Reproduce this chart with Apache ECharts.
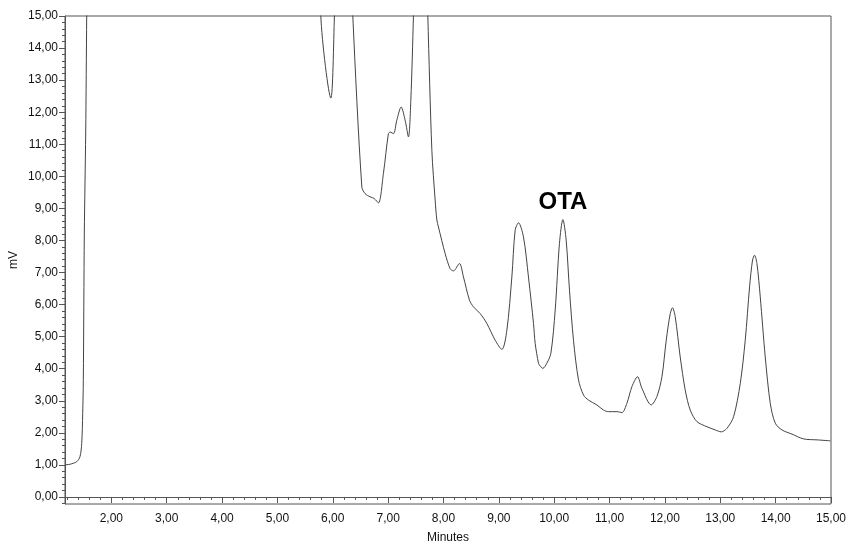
<!DOCTYPE html>
<html>
<head>
<meta charset="utf-8">
<script src="https://cdn.jsdelivr.net/npm/echarts@6/dist/echarts.min.js"></script>
<style>html,body{margin:0;padding:0;background:#fff;}#c{width:847px;height:542px;}</style>
</head>
<body>
<div id="c"></div>
<script>
// Retention time (minutes)
var times = [1.163, 1.254, 1.375, 1.434, 1.465, 1.483, 1.494, 1.512, 1.537, 1.555, 1.58,
  5.75, 5.784, 5.965, 6.030, 6.06,
  6.33, 6.362, 6.525, 6.584, 6.675, 6.747, 6.825, 6.915, 7.005, 7.036, 7.096, 7.157, 7.235, 7.307, 7.367, 7.410, 7.457, 7.48,
  7.69, 7.717, 7.790, 7.849, 7.880, 7.909, 8.030, 8.120, 8.180, 8.288, 8.361, 8.469, 8.541, 8.662, 8.783, 8.933, 9.055,
  9.145, 9.235, 9.295, 9.355, 9.445, 9.535, 9.626, 9.656, 9.716, 9.734, 9.795, 9.867, 9.940, 10.018, 10.095, 10.157,
  10.216, 10.276, 10.348, 10.439, 10.529, 10.619, 10.771, 10.890, 10.981, 11.133, 11.223, 11.313, 11.404, 11.505,
  11.584, 11.752, 11.855, 11.946, 12.024, 12.096, 12.137, 12.186, 12.276, 12.367, 12.457, 12.578, 12.759, 12.909,
  13.017, 13.120, 13.240, 13.361, 13.451, 13.529, 13.583, 13.619, 13.662, 13.722, 13.812, 13.903, 13.993, 14.114,
  14.295, 14.505, 14.747, 14.987];
// Detector signal (mV)
var signal = [1.00, 1.02, 1.10, 1.26, 1.67, 2.61, 3.63, 8.23, 11.35, 15.0, 20,
  20, 15.0, 12.44, 15.0, 17,
  17, 15.0, 9.67, 9.46, 9.36, 9.31, 9.17, 10.09, 11.33, 11.38, 11.33, 11.75, 12.16, 11.75, 11.23, 12.37, 15.0, 17,
  17, 15.0, 10.81, 9.26, 8.64, 8.42, 7.59, 7.12, 7.05, 7.28, 6.86, 6.14, 5.93, 5.72, 5.41, 4.89, 4.60,
  5.20, 6.86, 8.32, 8.55, 8.11, 6.86, 5.41, 4.79, 4.17, 4.11, 4.01, 4.17, 4.48, 5.83, 7.91, 8.65,
  8.01, 6.45, 4.89, 3.65, 3.18, 3.02, 2.87, 2.71, 2.66, 2.66, 2.63, 2.92, 3.44, 3.75,
  3.39, 2.87, 3.13, 3.75, 4.89, 5.72, 5.90, 5.62, 4.37, 3.33, 2.71, 2.35, 2.19, 2.09,
  2.03, 2.14, 2.50, 3.54, 4.89, 6.55, 7.39, 7.54, 7.28, 6.24, 4.37, 2.92, 2.30, 2.09,
  1.96, 1.81, 1.78, 1.75];
var xMajor = [2,3,4,5,6,7,8,9,10,11,12,13,14,15];
var yMajor = [0,1,2,3,4,5,6,7,8,9,10,11,12,13,14,15];
var peakLabel = {name: 'OTA', time: 10.157, value: 8.65};

var xMinor = [];
for (var i = 6; i <= 75; i++) { var v = i / 5; if (Math.abs(v - Math.round(v)) > 1e-6) xMinor.push(v); }
var yMinor = [];
for (var j = -1; j <= 75; j++) { var w = j / 5; if (Math.abs(w - Math.round(w)) > 1e-6) yMinor.push(w); }

var data = times.map(function (t, k) { return [t, signal[k]]; });
var fmt = function (v) { return v.toFixed(2).replace('.', ','); };
var XMIN = 1.163, XMAX = 15, YMIN = -0.22, YMAX = 15;
var axisColor = '#555';
var gridPos = {left: 65, right: 16, top: 16, bottom: 38, containLabel: false, outerBoundsMode: 'none'};

var chart = echarts.init(document.getElementById('c'), null, {renderer: 'canvas'});
chart.setOption({
  animation: false,
  backgroundColor: '#fff',
  textStyle: {fontFamily: 'Liberation Sans, Arial, sans-serif'},
  grid: [
    Object.assign({show: true, borderColor: axisColor, borderWidth: 1}, gridPos),
    Object.assign({show: false}, gridPos)
  ],
  xAxis: [{
    type: 'value', gridIndex: 0, min: XMIN, max: XMAX,
    name: 'Minutes', nameLocation: 'middle', nameGap: 28,
    nameTextStyle: {fontSize: 12, color: '#111'},
    axisLine: {show: true, lineStyle: {color: axisColor}},
    axisTick: {show: true, length: 6, customValues: xMajor, lineStyle: {color: axisColor}},
    axisLabel: {customValues: xMajor, formatter: fmt, fontSize: 12, color: '#111', margin: 9},
    splitLine: {show: false}
  }, {
    type: 'value', gridIndex: 1, min: XMIN, max: XMAX,
    axisLine: {show: false},
    axisTick: {show: true, length: 3, customValues: xMinor, lineStyle: {color: axisColor}},
    axisLabel: {show: false}, splitLine: {show: false}
  }],
  yAxis: [{
    type: 'value', gridIndex: 0, min: YMIN, max: YMAX,
    name: 'mV', nameLocation: 'middle', nameGap: 45, nameRotate: 90, nameMoveOverlap: false,
    nameTextStyle: {fontSize: 12, color: '#111'},
    axisLine: {show: true, lineStyle: {color: axisColor}},
    axisTick: {show: true, length: 6, customValues: yMajor, lineStyle: {color: axisColor}},
    axisLabel: {customValues: yMajor, formatter: fmt, fontSize: 12, color: '#111', margin: 7},
    splitLine: {show: false}
  }, {
    type: 'value', gridIndex: 1, min: YMIN, max: YMAX,
    axisLine: {show: false},
    axisTick: {show: true, length: 3, customValues: yMinor, lineStyle: {color: axisColor}},
    axisLabel: {show: false}, splitLine: {show: false}
  }],
  series: [{
    type: 'line', xAxisIndex: 0, yAxisIndex: 0,
    data: data, showSymbol: false, symbol: 'none', smooth: 0.3, clip: true,
    lineStyle: {color: '#444', width: 1},
    markPoint: {
      symbol: 'circle', symbolSize: 0,
      data: [{coord: [peakLabel.time, peakLabel.value], value: peakLabel.name}],
      label: {show: true, position: 'top', distance: 5, formatter: peakLabel.name,
        fontSize: 24, fontWeight: 'bold', color: '#000', fontFamily: 'Liberation Sans, Arial, sans-serif'}
    }
  }]
});
</script>
</body>
</html>
